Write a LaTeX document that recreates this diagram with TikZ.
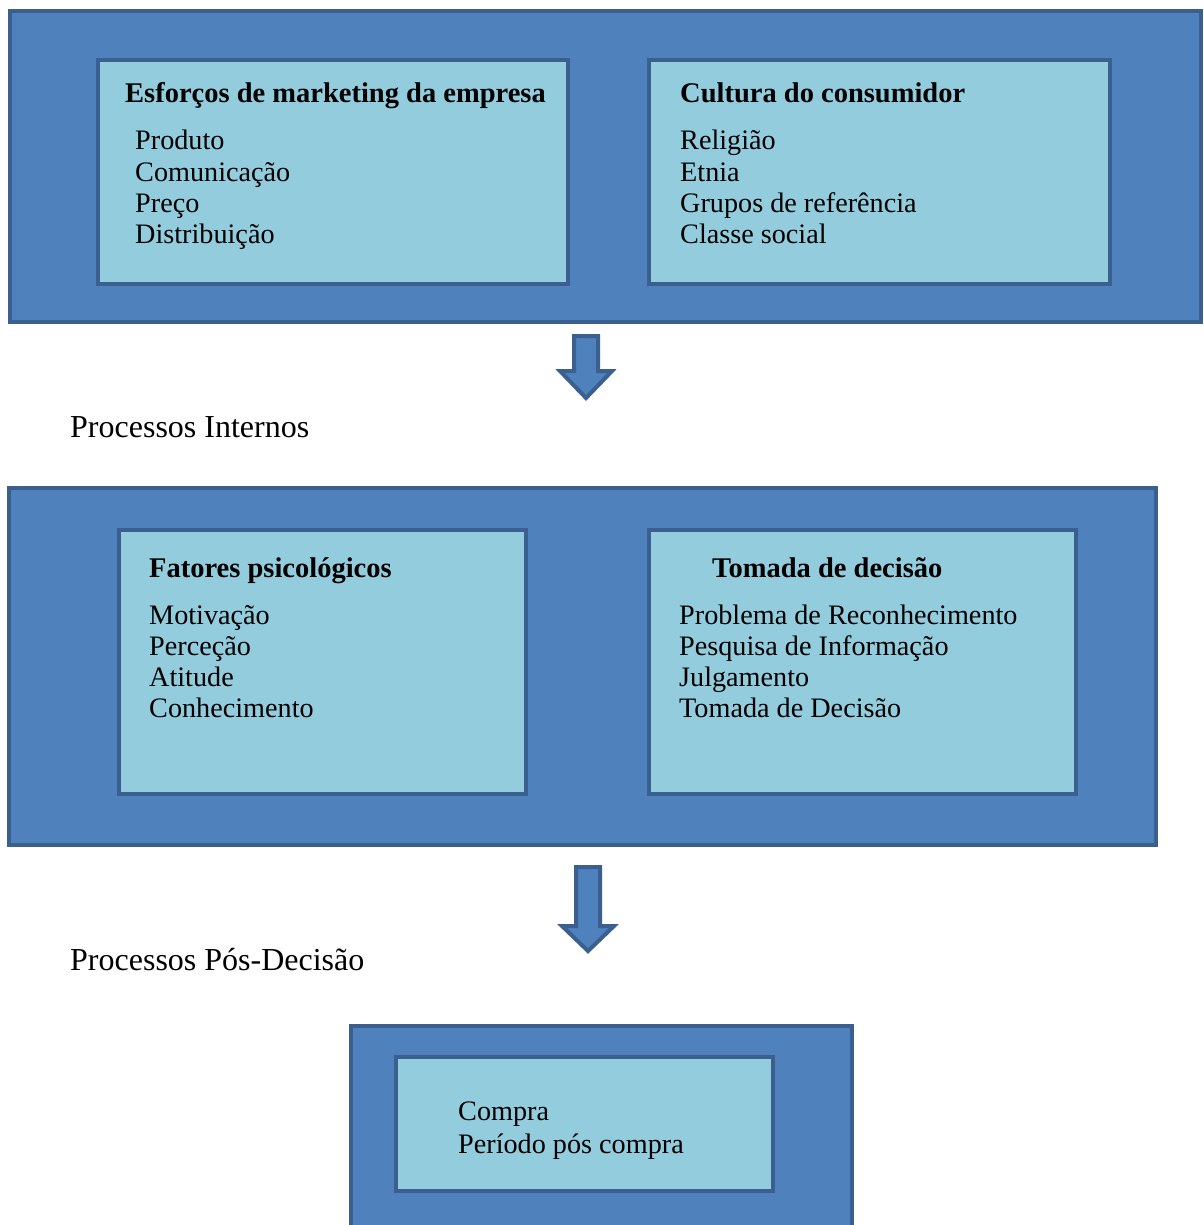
\documentclass[tikz,border=0pt]{standalone}
\usepackage{fontspec}
\setmainfont{Liberation Serif}
\definecolor{outerfill}{HTML}{4F81BD}
\definecolor{boxline}{HTML}{3B5F8E}
\definecolor{innerfill}{HTML}{93CDDD}
\tikzset{
  outerbox/.style={draw=boxline, fill=outerfill, line width=4pt},
  innerbox/.style={draw=boxline, fill=innerfill, line width=4.5pt},
  blockarrow/.style={draw=boxline, fill=outerfill, line width=4pt, line join=miter},
  ttl/.style={anchor=base west, inner sep=0pt, font=\fontsize{28.5}{31}\selectfont\bfseries},
  itm/.style={anchor=base west, inner sep=0pt, font=\fontsize{28.2}{31}\selectfont},
  lbl/.style={anchor=base west, inner sep=0pt, font=\fontsize{32}{36}\selectfont},
}
\begin{document}
\begin{tikzpicture}[x=1pt,y=-1pt]
\useasboundingbox (0,0) rectangle (1203,1225);
% top group
\draw[outerbox] (10,11) rectangle (1201,322);
\draw[innerbox] (98,60) rectangle (568,284);
\draw[innerbox] (649,60) rectangle (1110,284);
\node[ttl] (t1) at (125,103) {Esforços de marketing da empresa};
\node[itm] (a1) at (135,150) {Produto};
\node[itm] (a2) at (135,182) {Comunicação};
\node[itm] (a3) at (135,212) {Preço};
\node[itm] (a4) at (135,243) {Distribuição};
\node[ttl] (t2) at (680,103) {Cultura do consumidor};
\node[itm] (b1) at (680,150) {Religião};
\node[itm] (b2) at (680,182) {Etnia};
\node[itm] (b3) at (680,212) {Grupos de referência};
\node[itm] (b4) at (680,243) {Classe social};
% arrow 1
\draw[blockarrow] (574,336) -- (598,336) -- (598,371) -- (612,371) -- (586,398) -- (560,371) -- (574,371) -- cycle;
\node[lbl] (l1) at (70,437) {Processos Internos};
% middle group
\draw[outerbox] (9,488) rectangle (1156,845);
\draw[innerbox] (119,530) rectangle (526,794);
\draw[innerbox] (649,530) rectangle (1076,794);
\node[ttl] (t3) at (149,577) {Fatores psicológicos};
\node[itm] (c1) at (149,624) {Motivação};
\node[itm] (c2) at (149,655) {Perceção};
\node[itm] (c3) at (149,686) {Atitude};
\node[itm] (c4) at (149,717) {Conhecimento};
\node[ttl] (t4) at (712,577) {Tomada de decisão};
\node[itm] (d1) at (679,624) {Problema de Reconhecimento};
\node[itm] (d2) at (679,655) {Pesquisa de Informação};
\node[itm] (d3) at (679,686) {Julgamento};
\node[itm] (d4) at (679,717) {Tomada de Decisão};
% arrow 2
\draw[blockarrow] (576,867) -- (600,867) -- (600,926) -- (614,926) -- (588,951) -- (562,926) -- (576,926) -- cycle;
\node[lbl] (l2) at (70,970) {Processos Pós-Decisão};
% bottom group
\draw[outerbox] (351,1026) rectangle (852,1240);
\draw[innerbox] (396,1057) rectangle (773,1191);
\node[itm] (e1) at (458,1120) {Compra};
\node[itm] (e2) at (458,1153) {Período pós compra};
\end{tikzpicture}
\end{document}
